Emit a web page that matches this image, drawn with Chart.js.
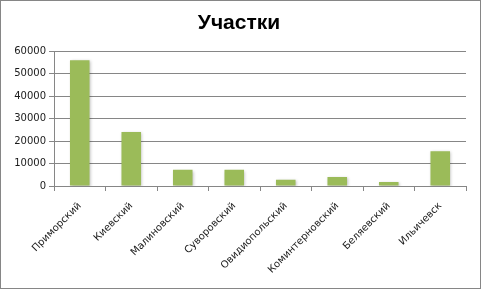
<!DOCTYPE html>
<html>
<head>
<meta charset="utf-8">
<script src="https://cdn.jsdelivr.net/npm/chart.js@4"></script>
<style>
  html, body { margin: 0; padding: 0; background: #fff; }
  #wrap { width: 481px; height: 289px; }
</style>
</head>
<body>
<div id="wrap"><canvas id="chart" width="481" height="289"></canvas></div>
<script>
const categories = ["Приморский", "Киевский", "Малиновский", "Суворовский", "Овидиопольский", "Коминтерновский", "Беляевский", "Ильичевск"];
const values = [56000, 24000, 7200, 7200, 2800, 4000, 1800, 15500];
const yTicks = [0, 10000, 20000, 30000, 40000, 50000, 60000];

/* frame round the whole chart */
const framePlugin = {
  id: "frame",
  afterDraw(chart) {
    const ctx = chart.ctx;
    ctx.save();
    ctx.strokeStyle = "#868686";
    ctx.lineWidth = 1;
    ctx.strokeRect(0.5, 0.5, chart.width - 1, chart.height - 1);
    ctx.restore();
  }
};

/* soft shadow under bars */
const shadowPlugin = {
  id: "barShadow",
  beforeDatasetsDraw(chart) {
    const ctx = chart.ctx;
    ctx.save();
    ctx.shadowColor = "rgba(0,0,0,0.25)";
    ctx.shadowBlur = 3;
    ctx.shadowOffsetX = 1;
    ctx.shadowOffsetY = 1;
  },
  afterDatasetsDraw(chart) {
    chart.ctx.restore();
  }
};

new Chart(document.getElementById("chart"), {
  type: "bar",
  data: {
    labels: categories,
    datasets: [{
      data: values,
      backgroundColor: "#9BBB59",
      borderWidth: 0,
      categoryPercentage: 1,
      barPercentage: 0.38
    }]
  },
  options: {
    responsive: false,
    animation: false,
    layout: { padding: { left: 12, right: 15, top: 0, bottom: 0 } },
    plugins: {
      legend: { display: false },
      tooltip: { enabled: false },
      title: {
        display: true,
        text: "Участки",
        color: "#000",
        font: { family: "Liberation Sans", size: 21, weight: "bold" },
        padding: { top: 11, bottom: 15 }
      }
    },
    scales: {
      y: {
        min: 0, max: 60000,
        afterBuildTicks: scale => { scale.ticks = yTicks.map(v => ({ value: v })); },
        afterFit: scale => { scale.width = 42; },
        grid: { color: "#868686", tickLength: 5, drawTicks: true },
        border: { color: "#868686" },
        ticks: {
          color: "#1a1a1a",
          padding: 3,
          callback: v => String(v),
          font: { family: "DejaVu Sans", size: 10 }
        }
      },
      x: {
        afterFit: scale => { scale.height = 103; },
        grid: { offset: true, drawOnChartArea: false, color: "#868686", tickLength: 5 },
        border: { color: "#868686" },
        ticks: {
          color: "#1a1a1a",
          minRotation: 45,
          maxRotation: 45,
          autoSkip: false,
          padding: 9,
          font: { family: "DejaVu Sans", size: 10 }
        }
      }
    }
  },
  plugins: [framePlugin, shadowPlugin]
});
</script>
</body>
</html>
